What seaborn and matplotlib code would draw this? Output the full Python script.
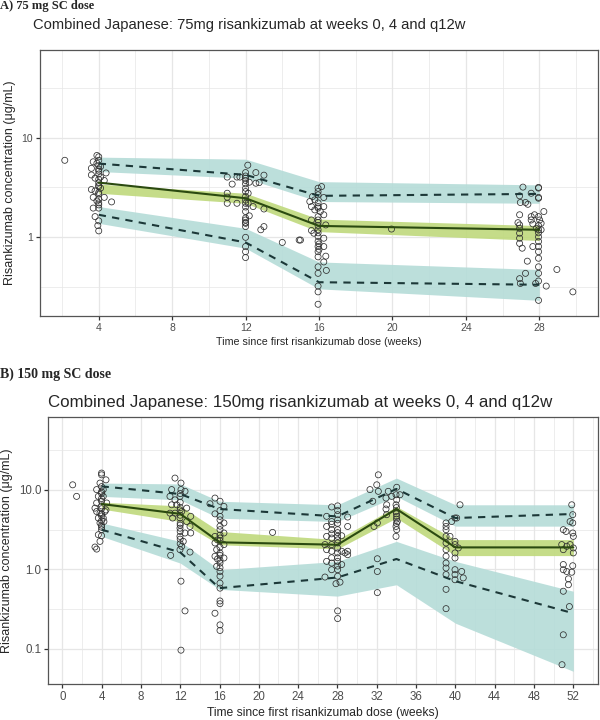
import numpy as np
import pandas as pd
import matplotlib
matplotlib.use('Agg')
import matplotlib.pyplot as plt
import seaborn as sns
from matplotlib.ticker import FixedLocator, FixedFormatter, NullFormatter

# ---------------- Panel A: 75 mg ----------------
# observed concentrations (week, ug/mL), one pair of lists per visit
a_other_t = [2.15]
a_other_c = [5.9]
a4_t = [3.9, 4.0, 3.7, 3.9, 3.6, 4.1, 4.4, 3.6, 3.8, 4.1, 4.3, 4.0, 3.6, 3.8, 4.1, 4.3, 3.7, 3.9, 4.7, 4.0,
        3.7, 4.0, 3.8, 4.0, 3.95, 4.0, 4.0, 4.0, 4.0, 4.0, 4.0, 4.0, 4.0, 4.0, 4.0, 4.0, 4.0, 4.0]
a4_c = [6.6, 6.4, 5.7, 5.5, 4.9, 5.1, 4.4, 4.2, 3.9, 4.0, 3.7, 3.5, 3.0, 2.9, 3.1, 2.5, 2.5, 2.3, 2.25, 2.1,
        1.95, 1.95, 1.6, 1.45, 1.3, 1.15, 5.9, 5.2, 4.8, 4.6, 4.3, 3.8, 3.3, 3.2, 2.8, 2.7, 2.4, 2.2]
a12_t = [11.0, 11.27, 11.53, 11.69, 12.0, 12.12, 12.56, 13.0, 12.74, 12.56, 12.2, 12.0, 12.0, 12.0, 12.0,
         11.0, 11.0, 11.0, 11.53, 12.0, 12.14, 12.0, 12.14, 12.41, 13.0, 12.0, 12.2, 12.0, 12.0, 12.0,
         12.83, 13.0, 12.0, 12.0, 12.0, 12.0, 14.0, 14.92, 12.0, 12.0, 12.0, 12.0, 12.0, 12.0]
a12_c = [4.0, 3.4, 4.0, 4.0, 4.44, 5.27, 4.44, 4.18, 3.52, 3.47, 3.55, 3.9, 3.42, 3.09, 2.86,
         2.75, 2.51, 2.18, 2.18, 2.55, 2.75, 2.18, 2.18, 2.02, 1.91, 1.8, 1.63, 1.48, 1.37, 1.27,
         1.18, 1.27, 0.99, 0.8, 0.71, 0.62, 0.88, 0.93, 4.1, 3.7, 2.35, 2.0, 1.55, 1.4]
a16_t = [15.65, 15.77, 15.5, 16.14, 15.95, 15.95, 16.26, 15.59, 15.95, 16.26, 15.77, 16.07, 16.26, 15.59, 15.95,
         16.37, 15.95, 15.59, 15.72, 15.95, 16.26, 15.95, 15.95, 16.26, 15.95, 16.37, 15.95, 16.26, 16.4, 15.95,
         15.95, 15.95, 15.95, 15.95, 14.99, 19.95, 15.95, 15.95, 15.95, 15.95, 15.95, 15.95, 15.95, 16.0, 16.0]
a16_c = [2.55, 2.36, 2.27, 3.21, 3.09, 2.86, 2.49, 2.02, 2.02, 2.02, 1.87, 1.8, 1.67, 1.48, 1.48,
         1.32, 1.18, 1.16, 1.09, 1.01, 0.97, 0.9, 0.8, 0.8, 0.71, 0.64, 0.63, 0.56, 0.46, 0.5,
         0.43, 0.32, 0.28, 0.21, 0.93, 1.2, 2.65, 2.2, 1.95, 1.6, 1.4, 1.3, 1.1, 0.85, 0.75]
a28_t = [27.11, 27.56, 27.96, 27.96, 26.93, 26.97, 27.25, 27.38, 28.25, 26.93, 27.56, 27.74, 27.96, 27.56, 28.02,
         28.1, 26.84, 26.93, 27.65, 27.84, 27.96, 28.1, 26.93, 26.93, 26.93, 26.93, 27.07, 27.65, 27.96, 27.96,
         27.96, 27.35, 28.96, 27.96, 27.25, 27.96, 26.93, 27.96, 26.97, 27.8, 28.38, 27.96, 29.83,
         27.96, 27.96, 27.96, 27.96, 27.96, 27.96]
a28_c = [3.17, 2.75, 3.15, 2.45, 2.59, 2.22, 2.22, 2.13, 1.8, 1.67, 1.6, 1.67, 1.6, 1.48, 1.48,
         1.37, 1.39, 1.32, 1.35, 1.22, 1.18, 1.18, 1.22, 1.09, 0.97, 0.86, 0.77, 0.8, 0.8, 0.71,
         0.61, 0.57, 0.47, 0.5, 0.43, 0.43, 0.38, 0.36, 0.34, 0.34, 0.32, 0.23, 0.28,
         3.1, 2.5, 1.3, 1.0, 0.9, 1.1]

# observed percentiles and simulated 95% CI bands at nominal visits
a_weeks = [4, 12, 16, 28]
a_median = [3.52, 2.45, 1.29, 1.18]
a_p95 = [5.47, 4.21, 2.59, 2.71]
a_p05 = [1.67, 0.88, 0.35, 0.33]
a_p95_lo = [4.55, 3.9, 2.27, 2.18]
a_p95_hi = [6.35, 6.06, 3.6, 3.34]
a_med_lo = [2.75, 2.18, 1.13, 0.92]
a_med_hi = [3.4, 2.75, 1.51, 1.30]
a_p05_lo = [1.37, 0.77, 0.30, 0.23]
a_p05_hi = [2.02, 1.22, 0.56, 0.47]

# ---------------- Panel B: 150 mg ----------------
b_other_t = [1.06, 1.46, 21.4]
b_other_c = [11.6, 8.3, 2.92]
b4_t = [4.0, 4.0, 4.45, 3.84, 3.5, 4.17, 3.67, 4.17, 3.5, 4.52, 3.33, 3.84, 4.34, 3.67, 4.17,
        3.84, 4.0, 3.67, 3.84, 3.33, 3.5, 4.0, 4.45, 4.24, 3.5,
        4.0, 4.0, 4.0, 4.0, 4.0, 4.0, 4.0, 4.0, 4.0, 4.0, 4.0, 4.0]
b4_c = [16.3, 15.5, 13.4, 12.2, 10.1, 10.1, 8.3, 8.3, 6.85, 6.85, 5.9, 5.1, 5.35, 4.43, 4.43,
        3.84, 3.16, 2.73, 2.25, 1.91, 1.8, 2.65, 5.6, 4.0, 5.35,
        11.0, 9.5, 9.0, 7.8, 7.2, 6.3, 5.8, 5.0, 4.7, 4.1, 3.6, 3.4]
b12_t = [11.47, 12.08, 11.13, 12.08, 12.49, 10.96, 11.47, 11.98, 11.13, 11.64, 12.66, 12.15, 10.96, 11.47, 13.07,
         11.23, 11.98, 12.66, 13.0, 13.07, 11.98, 12.49, 11.98, 12.31, 12.15, 11.98, 11.03, 13.0, 12.08, 12.49,
         12.08, 12.0, 12.0, 12.0, 12.0, 12.0, 12.0, 12.0, 12.0, 12.0, 12.0]
b12_c = [14.1, 12.2, 10.1, 10.1, 9.6, 8.3, 7.5, 8.3, 6.5, 6.5, 5.9, 5.35, 5.1, 5.1, 4.65,
         4.43, 4.43, 4.0, 3.47, 2.87, 3.3, 2.87, 2.6, 2.25, 1.95, 1.77, 1.5, 1.65, 0.71, 0.3,
         0.096, 9.0, 7.0, 6.0, 5.6, 4.8, 3.8, 3.6, 3.0, 2.4, 2.1]
b16_t = [15.54, 15.03, 16.05, 16.45, 15.54, 16.05, 16.45, 16.05, 16.45, 15.54, 16.05, 15.54, 16.45, 15.71, 16.05,
         15.54, 16.45, 16.05, 15.71, 16.05, 16.05, 16.05, 16.05, 16.05, 16.05, 15.54, 16.05, 16.05,
         16.05, 16.05, 16.05, 16.05, 16.05, 16.05, 16.05, 16.05, 16.05, 15.8, 15.8]
b16_c = [7.9, 6.7, 7.2, 6.2, 5.0, 4.65, 3.84, 3.16, 2.87, 2.6, 2.48, 2.15, 2.05, 1.77, 1.61,
         1.46, 1.39, 1.2, 1.09, 0.94, 0.82, 0.67, 0.58, 0.4, 0.37, 0.28, 0.2, 0.17,
         5.5, 4.2, 3.5, 2.7, 2.3, 1.9, 1.5, 1.3, 1.05, 2.35, 1.35]
b28_t = [27.41, 28.02, 26.9, 27.41, 28.02, 29.04, 26.9, 27.41, 28.02, 29.04, 26.9, 27.41, 28.02, 28.43, 26.73,
         27.41, 28.02, 26.9, 27.41, 28.02, 28.43, 29.04, 28.77, 29.04, 26.9, 27.41, 28.02, 28.43, 27.41, 28.02,
         26.73, 28.02, 27.85, 28.26, 28.02, 28.02,
         28.02, 28.02, 28.02, 28.02, 28.02, 28.02, 28.02, 28.02, 27.41, 27.41, 27.41]
b28_c = [6.1, 6.3, 4.65, 4.0, 4.88, 4.56, 3.47, 3.16, 3.16, 3.47, 2.6, 2.48, 2.6, 2.65, 2.05,
         2.05, 2.15, 1.77, 1.69, 1.61, 1.69, 1.69, 1.61, 1.53, 1.26, 1.2, 1.26, 1.15, 0.99, 0.99,
         0.8, 0.82, 0.66, 0.69, 0.3, 0.24,
         5.5, 4.2, 3.8, 2.9, 2.35, 1.85, 1.4, 1.1, 3.7, 2.8, 1.4]
b34_t = [32.16, 32.0, 31.31, 32.16, 31.59, 32.94, 33.01, 32.94, 33.01, 33.17, 33.52, 34.03, 33.96, 34.03, 33.96,
         33.96, 34.03, 34.09, 33.96, 34.03, 33.96, 34.36, 32.06, 31.72, 32.06, 32.06, 32.06,
         34.0, 34.0, 34.0, 34.0]
b34_c = [15.5, 11.6, 10.1, 9.6, 7.2, 7.9, 6.5, 5.75, 4.88, 9.6, 8.3, 10.8, 8.7, 7.5, 6.5,
         5.35, 4.65, 4.0, 3.47, 3.16, 2.6, 8.7, 3.84, 3.47, 1.36, 0.94, 0.51,
         6.0, 5.0, 4.3, 3.8]
b40_t = [40.47, 39.62, 39.96, 39.05, 39.05, 39.05, 39.05, 39.45, 39.96, 39.05, 39.96, 39.05, 40.3, 39.05, 39.96,
         39.05, 39.05, 39.96, 40.64, 39.96, 39.05, 40.8, 39.96, 39.05, 39.05, 40.13, 39.96]
b40_c = [6.5, 4.0, 4.43, 3.84, 3.47, 3.16, 2.6, 2.6, 2.25, 2.15, 2.05, 1.77, 1.86, 1.46, 1.61,
         1.2, 1.04, 0.99, 0.94, 0.86, 0.86, 0.78, 0.74, 0.56, 0.32, 4.43, 1.39]
b52_t = [51.84, 51.94, 51.94, 51.67, 50.98, 51.26, 51.94, 52.0, 50.82, 51.67, 51.33, 52.0, 50.98, 52.0, 50.98,
         51.94, 50.98, 51.33, 51.84, 51.5, 51.5, 50.98, 51.6, 50.98, 50.85]
b52_c = [6.5, 4.88, 3.84, 4.0, 3.16, 3.0, 2.87, 2.6, 2.05, 2.05, 1.95, 1.86, 1.77, 1.61, 1.15,
         1.11, 0.99, 0.94, 0.92, 0.76, 0.64, 0.53, 0.34, 0.15, 0.063]

b_weeks = [4, 12, 16, 28, 34, 40, 52]
b_median = [6.65, 5.0, 2.19, 2.04, 5.75, 1.89, 1.89]
b_p95 = [11.1, 8.88, 5.75, 4.64, 10.3, 4.43, 4.98]
b_p05 = [3.16, 1.64, 0.58, 0.79, 1.35, 0.71, 0.28]
b_p95_lo = [8.3, 7.5, 4.4, 4.0, 8.3, 3.5, 3.5]
b_p95_hi = [12.2, 11.9, 7.2, 6.5, 14.1, 6.5, 6.5]
b_med_lo = [5.75, 4.0, 2.04, 1.81, 4.43, 1.49, 1.49]
b_med_hi = [7.0, 6.3, 3.0, 2.37, 6.2, 2.37, 2.37]
b_p05_lo = [2.6, 1.2, 0.56, 0.46, 0.64, 0.21, 0.052]
b_p05_hi = [3.84, 2.25, 0.99, 1.26, 2.25, 1.26, 0.53]

# colours
TEAL = '#b5dcd8'
GREEN = '#bfd97c'
MED_COL = '#2b4a10'
PCT_COL = '#1c3838'
GRID = '#e6e6e6'

sns.set_theme(style='white')
plt.rcParams['font.family'] = ['Liberation Sans', 'DejaVu Sans']


def obs_frame(ts, cs):
    t = sum(ts, [])
    c = sum(cs, [])
    assert len(t) == len(c)
    return pd.DataFrame({'week': t, 'conc': c})


def draw_vpc(ax, obs, weeks, med, p95, p05, bands):
    ax.set_yscale('log')
    for lo, hi, col in bands:
        ax.fill_between(weeks, lo, hi, color=col, lw=0, alpha=0.9, zorder=1)
    sns.scatterplot(data=obs, x='week', y='conc', ax=ax, marker='o', s=19,
                    facecolors='none', edgecolor='#303030', linewidth=0.55, zorder=3)
    sns.lineplot(x=weeks, y=p95, ax=ax, color=PCT_COL, lw=1.5, linestyle=(0, (3.5, 3)), zorder=4)
    sns.lineplot(x=weeks, y=p05, ax=ax, color=PCT_COL, lw=1.5, linestyle=(0, (3.5, 3)), zorder=4)
    sns.lineplot(x=weeks, y=med, ax=ax, color=MED_COL, lw=1.5, zorder=5)


def style_axes(ax, xmaj, xmin, ymaj, ylab, ymin, xlim, ylim, tick_fs, xlab_fs, ylab_fs):
    ax.set_xlim(*xlim)
    ax.set_ylim(*ylim)
    ax.xaxis.set_major_locator(FixedLocator(xmaj))
    ax.xaxis.set_minor_locator(FixedLocator(xmin))
    ax.yaxis.set_major_locator(FixedLocator(ymaj))
    ax.yaxis.set_major_formatter(FixedFormatter(ylab))
    ax.yaxis.set_minor_locator(FixedLocator(ymin))
    ax.yaxis.set_minor_formatter(NullFormatter())
    ax.grid(True, which='major', color=GRID, lw=0.9, zorder=0)
    ax.grid(True, which='minor', color=GRID, lw=0.5, zorder=0)
    ax.set_axisbelow(True)
    ax.tick_params(which='major', length=3, width=0.9, color='#333333',
                   labelsize=tick_fs, labelcolor='#4d4d4d', pad=2, bottom=True, left=True)
    ax.tick_params(which='minor', length=0)
    for s in ax.spines.values():
        s.set_color('#555555')
        s.set_linewidth(0.9)
    ax.set_xlabel('Time since first risankizumab dose (weeks)', fontsize=xlab_fs, labelpad=3)
    ax.set_ylabel('Risankizumab concentration (\u03bcg/mL)', fontsize=ylab_fs, labelpad=4)


fig = plt.figure(figsize=(6, 7.2), dpi=100)
ax_a = fig.add_axes([40 / 600, 1 - 316 / 720, 558 / 600, 266 / 720])
ax_b = fig.add_axes([48.3 / 600, 1 - 684 / 720, 549.4 / 600, 267.3 / 720])

obs_a = obs_frame([a_other_t, a4_t, a12_t, a16_t, a28_t], [a_other_c, a4_c, a12_c, a16_c, a28_c])
draw_vpc(ax_a, obs_a, a_weeks, a_median, a_p95, a_p05,
         [(a_p95_lo, a_p95_hi, TEAL), (a_med_lo, a_med_hi, GREEN), (a_p05_lo, a_p05_hi, TEAL)])
style_axes(ax_a, list(range(4, 29, 4)), list(range(2, 31, 4)), [1, 10], ['1', '10'],
           [10 ** -0.5, 10 ** 0.5, 10 ** 1.5], (0.8, 31.2), (0.16, 76), 7.5, 7.7, 9)

obs_b = obs_frame([b_other_t, b4_t, b12_t, b16_t, b28_t, b34_t, b40_t, b52_t],
                  [b_other_c, b4_c, b12_c, b16_c, b28_c, b34_c, b40_c, b52_c])
draw_vpc(ax_b, obs_b, b_weeks, b_median, b_p95, b_p05,
         [(b_p95_lo, b_p95_hi, TEAL), (b_med_lo, b_med_hi, GREEN), (b_p05_lo, b_p05_hi, TEAL)])
style_axes(ax_b, list(range(0, 53, 4)), list(range(2, 55, 4)), [0.1, 1, 10], ['0.1', '1.0', '10.0'],
           [10 ** -1.5, 10 ** -0.5, 10 ** 0.5, 10 ** 1.5], (-1.42, 54.48), (0.036, 83.6), 8.3, 8.7, 9)

# panel labels and titles
fig.text(0.0, 1 - 6 / 720, 'A) 75 mg SC dose', family='Liberation Serif', weight='bold',
         fontsize=9, ha='left', va='center')
fig.text(33 / 600, 1 - 25 / 720, 'Combined Japanese: 75mg risankizumab at weeks 0, 4 and q12w',
         fontsize=10.6, ha='left', va='center')
fig.text(0.0, 1 - 374 / 720, 'B) 150 mg SC dose', family='Liberation Serif', weight='bold',
         fontsize=10, ha='left', va='center')
fig.text(48 / 600, 1 - 402 / 720, 'Combined Japanese: 150mg risankizumab at weeks 0, 4 and q12w',
         fontsize=12.2, ha='left', va='center')

fig.savefig('out.png', dpi=100)
